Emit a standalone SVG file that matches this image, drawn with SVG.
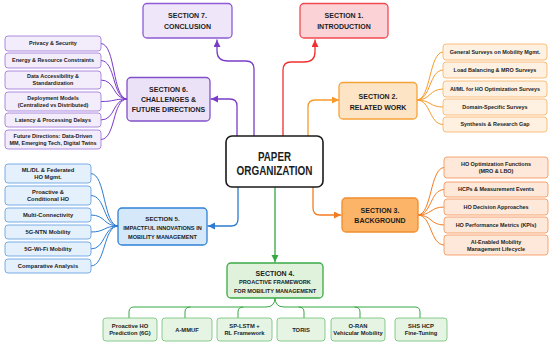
<svg xmlns="http://www.w3.org/2000/svg" width="550" height="345" viewBox="0 0 550 345">
<style>
text{font-family:"Liberation Sans",Arial,sans-serif;font-weight:bold;text-anchor:middle;fill:#1c1c1c;stroke:none}
.h{font-size:7px}
.hs{font-size:6.2px}
.sub{font-size:5.6px}
.i{font-size:5.45px}
.j{font-size:5.8px}
.c{font-size:13.5px}
.sec{stroke-width:1.3}
.it{stroke-width:0.8}
.conn path{fill:none;stroke-width:1.3;stroke-linecap:round;stroke-linejoin:round}
.fan path{fill:none;stroke-width:1;stroke-linecap:round}
</style>
<defs>
<marker id="aR" markerUnits="userSpaceOnUse" markerWidth="8" markerHeight="8" refX="7" refY="3.5" orient="auto"><path d="M0,0 L7,3.5 L0,7 z" fill="#f22f2f"/></marker>
<marker id="aP" markerUnits="userSpaceOnUse" markerWidth="8" markerHeight="8" refX="7" refY="3.5" orient="auto"><path d="M0,0 L7,3.5 L0,7 z" fill="#7a3cc8"/></marker>
<marker id="aO" markerUnits="userSpaceOnUse" markerWidth="8" markerHeight="8" refX="7" refY="3.5" orient="auto"><path d="M0,0 L7,3.5 L0,7 z" fill="#f79a2a"/></marker>
<marker id="aO2" markerUnits="userSpaceOnUse" markerWidth="8" markerHeight="8" refX="7" refY="3.5" orient="auto"><path d="M0,0 L7,3.5 L0,7 z" fill="#f37c22"/></marker>
<marker id="aB" markerUnits="userSpaceOnUse" markerWidth="8" markerHeight="8" refX="7" refY="3.5" orient="auto"><path d="M0,0 L7,3.5 L0,7 z" fill="#2c7bd1"/></marker>
<marker id="aG" markerUnits="userSpaceOnUse" markerWidth="8" markerHeight="8" refX="7" refY="3.5" orient="auto"><path d="M0,0 L7,3.5 L0,7 z" fill="#35a843"/></marker>
</defs>
<rect width="550" height="345" fill="#ffffff"/>

<g id="connectors">
<g class="conn">
<path d="M283,136 V70 Q283,62 291,62 H304 Q315,62 315,52 V40" stroke="#f22f2f" marker-end="url(#aR)"/>
<path d="M254,136 V69 Q254,61 246,61 H228 Q217,61 217,51 V40" stroke="#7a3cc8" marker-end="url(#aP)"/>
<path d="M237,136 V106 Q237,99 230,99 H211" stroke="#7a3cc8" marker-end="url(#aP)"/>
<path d="M308,136 V107 Q308,100 315,100 H339" stroke="#f79a2a" marker-end="url(#aO)"/>
<path d="M313,187 V208 Q313,215 320,215 H341" stroke="#f37c22" marker-end="url(#aO2)"/>
<path d="M238,187 V219 Q238,226 231,226 H208" stroke="#2c7bd1" marker-end="url(#aB)"/>
<path d="M275,187 V262" stroke="#35a843" marker-end="url(#aG)"/>
</g>
<g class="fan" stroke="#7a3cc8">
<path d="M101,43.5 C116,43.5 112,99 127,99"/>
<path d="M101,60.5 C116,60.5 112,99 127,99"/>
<path d="M101,80 C116,80 112,99 127,99"/>
<path d="M101,101.5 C116,101.5 112,99 127,99"/>
<path d="M101,120 C116,120 112,99 127,99"/>
<path d="M101,139.5 C116,139.5 112,99 127,99"/>
</g>
<g class="fan" stroke="#2c7bd1">
<path d="M91,173.5 C106,173.5 103,226 118,226"/>
<path d="M91,195.5 C106,195.5 103,226 118,226"/>
<path d="M91,215 C106,215 103,226 118,226"/>
<path d="M91,232 C106,232 103,226 118,226"/>
<path d="M91,249 C106,249 103,226 118,226"/>
<path d="M91,266 C106,266 103,226 118,226"/>
</g>
<g class="fan" stroke="#f79a2a">
<path d="M417,100 C431,100 429,52 443,52"/>
<path d="M417,100 C431,100 429,70 443,70"/>
<path d="M417,100 C431,100 429,89 443,89"/>
<path d="M417,100 C431,100 429,107 443,107"/>
<path d="M417,100 C431,100 429,124.5 443,124.5"/>
</g>
<g class="fan" stroke="#f37c22">
<path d="M418,215 C432,215 430,167.5 444,167.5"/>
<path d="M418,215 C432,215 430,189.5 444,189.5"/>
<path d="M418,215 C432,215 430,207 444,207"/>
<path d="M418,215 C432,215 430,225 444,225"/>
<path d="M418,215 C432,215 430,245 444,245"/>
</g>
<g class="fan" stroke="#35a843" stroke-width="1.2">
<path d="M275,298 Q275,307 266,307 H134 Q129,307 129,312 V318"/>
<path d="M190,307 Q185,307 185,312 V318"/>
<path d="M243,307 Q238,307 238,312 V318"/>
<path d="M275,298 Q275,307 284,307 H415 Q420,307 420,312 V318"/>
<path d="M299,307 Q304,307 304,312 V318"/>
<path d="M355,307 Q360,307 360,312 V318"/>
</g>
</g>

<g id="center">
<rect x="226" y="136" width="97" height="51" rx="6" fill="#ffffff" stroke="#1a1a1a" stroke-width="1.6"/>
<text class="c" x="274.5" y="161" textLength="33" lengthAdjust="spacingAndGlyphs">PAPER</text>
<text class="c" x="274.5" y="174.5" textLength="76" lengthAdjust="spacingAndGlyphs">ORGANIZATION</text>
</g>

<g id="sec7">
<rect class="sec" x="143" y="3.5" width="89" height="34.5" rx="4" fill="#efe6fa" stroke="#8d5bd6"/>
<text class="h" x="187.5" y="17.5">SECTION 7.</text>
<text class="h" x="187.5" y="28.5">CONCLUSION</text>
</g>
<g id="sec1">
<rect class="sec" x="300" y="3.5" width="88" height="34.5" rx="4" fill="#fbd3d6" stroke="#f04a4f"/>
<text class="h" x="344" y="17.5">SECTION 1.</text>
<text class="h" x="344" y="28.5">INTRODUCTION</text>
</g>
<g id="sec6">
<rect class="sec" x="127" y="77.5" width="83" height="43.5" rx="4" fill="#ece2f8" stroke="#8150c9"/>
<text class="h" x="168.5" y="91.5">SECTION 6.</text>
<text class="h" x="168.5" y="101.5">CHALLENGES &amp;</text>
<text class="h" x="168.5" y="111.5">FUTURE DIRECTIONS</text>
</g>
<g id="sec2">
<rect class="sec" x="339" y="82.5" width="78" height="36.5" rx="4" fill="#fde4c4" stroke="#f6a23a"/>
<text class="h" x="378" y="98.5">SECTION 2.</text>
<text class="h" x="378" y="109.5">RELATED WORK</text>
</g>
<g id="sec3">
<rect class="sec" x="342" y="198" width="76" height="34" rx="4" fill="#fbb468" stroke="#f28c2c"/>
<text class="h" x="380" y="212.5">SECTION 3.</text>
<text class="h" x="380" y="223">BACKGROUND</text>
</g>
<g id="sec5">
<rect class="sec" x="118" y="208" width="89" height="37" rx="4" fill="#d5e8fa" stroke="#2f80d5"/>
<text class="hs" x="162.5" y="221.2">SECTION 5.</text>
<text class="sub" x="162.5" y="230.2">IMPACTFUL INNOVATIONS IN</text>
<text class="sub" x="162.5" y="239">MOBILITY MANAGEMENT</text>
</g>
<g id="sec4">
<rect class="sec" x="227" y="263" width="96" height="35" rx="4" fill="#e0f2dc" stroke="#3aab47"/>
<text class="h" x="275" y="275.5">SECTION 4.</text>
<text class="sub" x="275" y="284.3">PROACTIVE FRAMEWORK</text>
<text class="sub" x="275" y="292.5">FOR MOBILITY MANAGEMENT</text>
</g>

<g id="s6-items" fill="#f3edfb" stroke="#9a6ed8">
<g id="s6-1"><rect class="it" x="5" y="36" width="96" height="15" rx="3"/><text class="i" x="53" y="45.4">Privacy &amp; Security</text></g>
<g id="s6-2"><rect class="it" x="5" y="53" width="96" height="15" rx="3"/><text class="i" x="53" y="62.4">Energy &amp; Resource Constraints</text></g>
<g id="s6-3"><rect class="it" x="5" y="71" width="96" height="18" rx="3"/><text class="i" x="53" y="78.4">Data Accessibility &amp;</text><text class="i" x="53" y="85.3">Standardization</text></g>
<g id="s6-4"><rect class="it" x="5" y="92" width="96" height="19" rx="3"/><text class="i" x="53" y="100">Deployment Models</text><text class="i" x="53" y="106.9">(Centralized vs Distributed)</text></g>
<g id="s6-5"><rect class="it" x="5" y="113" width="96" height="14" rx="3"/><text class="i" x="53" y="121.9">Latency &amp; Processing Delays</text></g>
<g id="s6-6"><rect class="it" x="5" y="130" width="96" height="19" rx="3"/><text class="i" x="53" y="138">Future Directions: Data-Driven</text><text class="i" x="53" y="145">MM, Emerging Tech, Digital Twins</text></g>
</g>

<g id="s5-items" fill="#e4f0fc" stroke="#5b9be0">
<g id="s5-1"><rect class="it" x="5" y="164" width="86" height="19" rx="3"/><text class="j" x="48" y="172.4">ML/DL &amp; Federated</text><text class="j" x="48" y="179.3">HO Mgmt.</text></g>
<g id="s5-2"><rect class="it" x="5" y="186" width="86" height="19" rx="3"/><text class="j" x="48" y="194.4">Proactive &amp;</text><text class="j" x="48" y="201.3">Conditional HO</text></g>
<g id="s5-3"><rect class="it" x="5" y="208" width="86" height="14" rx="3"/><text class="j" x="48" y="217">Multi-Connectivity</text></g>
<g id="s5-4"><rect class="it" x="5" y="225" width="86" height="14" rx="3"/><text class="j" x="48" y="234">5G-NTN Mobility</text></g>
<g id="s5-5"><rect class="it" x="5" y="242" width="86" height="14" rx="3"/><text class="j" x="48" y="251">5G-Wi-Fi Mobility</text></g>
<g id="s5-6"><rect class="it" x="5" y="259" width="86" height="14" rx="3"/><text class="j" x="48" y="268">Comparative Analysis</text></g>
</g>

<g id="s2-items" fill="#fff1e2" stroke="#f7b060">
<g id="s2-1"><rect class="it" x="443" y="44" width="104" height="16" rx="3"/><text class="i" x="495" y="53.9">General Surveys on Mobility Mgmt.</text></g>
<g id="s2-2"><rect class="it" x="443" y="62" width="104" height="16" rx="3"/><text class="i" x="495" y="71.9">Load Balancing &amp; MRO Surveys</text></g>
<g id="s2-3"><rect class="it" x="443" y="81" width="104" height="16" rx="3"/><text class="i" x="495" y="90.9">AI/ML for HO Optimization Surveys</text></g>
<g id="s2-4"><rect class="it" x="443" y="99" width="104" height="16" rx="3"/><text class="i" x="495" y="108.9">Domain-Specific Surveys</text></g>
<g id="s2-5"><rect class="it" x="443" y="117" width="104" height="15" rx="3"/><text class="i" x="495" y="126.4">Synthesis &amp; Research Gap</text></g>
</g>

<g id="s3-items" fill="#fde8da" stroke="#f29050">
<g id="s3-1"><rect class="it" x="444" y="157" width="104" height="21" rx="3"/><text class="i" x="496" y="166">HO Optimization Functions</text><text class="i" x="496" y="173.2">(MRO &amp; LBO)</text></g>
<g id="s3-2"><rect class="it" x="444" y="182" width="104" height="15" rx="3"/><text class="i" x="496" y="191.4">HCPs &amp; Measurement Events</text></g>
<g id="s3-3"><rect class="it" x="444" y="199" width="104" height="16" rx="3"/><text class="i" x="496" y="208.9">HO Decision Approaches</text></g>
<g id="s3-4"><rect class="it" x="444" y="217" width="104" height="16" rx="3"/><text class="i" x="496" y="226.9">HO Performance Metrics (KPIs)</text></g>
<g id="s3-5"><rect class="it" x="444" y="235" width="104" height="20" rx="3"/><text class="i" x="496" y="243.5">AI-Enabled Mobility</text><text class="i" x="496" y="250.8">Management Lifecycle</text></g>
</g>

<g id="s4-items" fill="#e5f4e3" stroke="#6cc273">
<g id="s4-1"><rect class="it" x="103" y="318" width="54" height="23" rx="3"/><text class="j" x="130" y="327.8">Proactive HO</text><text class="j" x="130" y="335.3">Prediction (6G)</text></g>
<g id="s4-2"><rect class="it" x="162" y="318" width="50" height="23" rx="3"/><text class="j" x="187" y="331.6">A-MMUF</text></g>
<g id="s4-3"><rect class="it" x="217" y="318" width="55" height="23" rx="3"/><text class="j" x="244.5" y="327.8">SP-LSTM +</text><text class="j" x="244.5" y="335.3">RL Framework</text></g>
<g id="s4-4"><rect class="it" x="277" y="318" width="48" height="23" rx="3"/><text class="j" x="301" y="331.6">TORIS</text></g>
<g id="s4-5"><rect class="it" x="331" y="318" width="54" height="23" rx="3"/><text class="j" x="358" y="327.8">O-RAN</text><text class="j" x="358" y="335.3">Vehicular Mobility</text></g>
<g id="s4-6"><rect class="it" x="395" y="318" width="52" height="23" rx="3"/><text class="j" x="421" y="327.8">SHS HCP</text><text class="j" x="421" y="335.3">Fine-Tuning</text></g>
</g>
</svg>
